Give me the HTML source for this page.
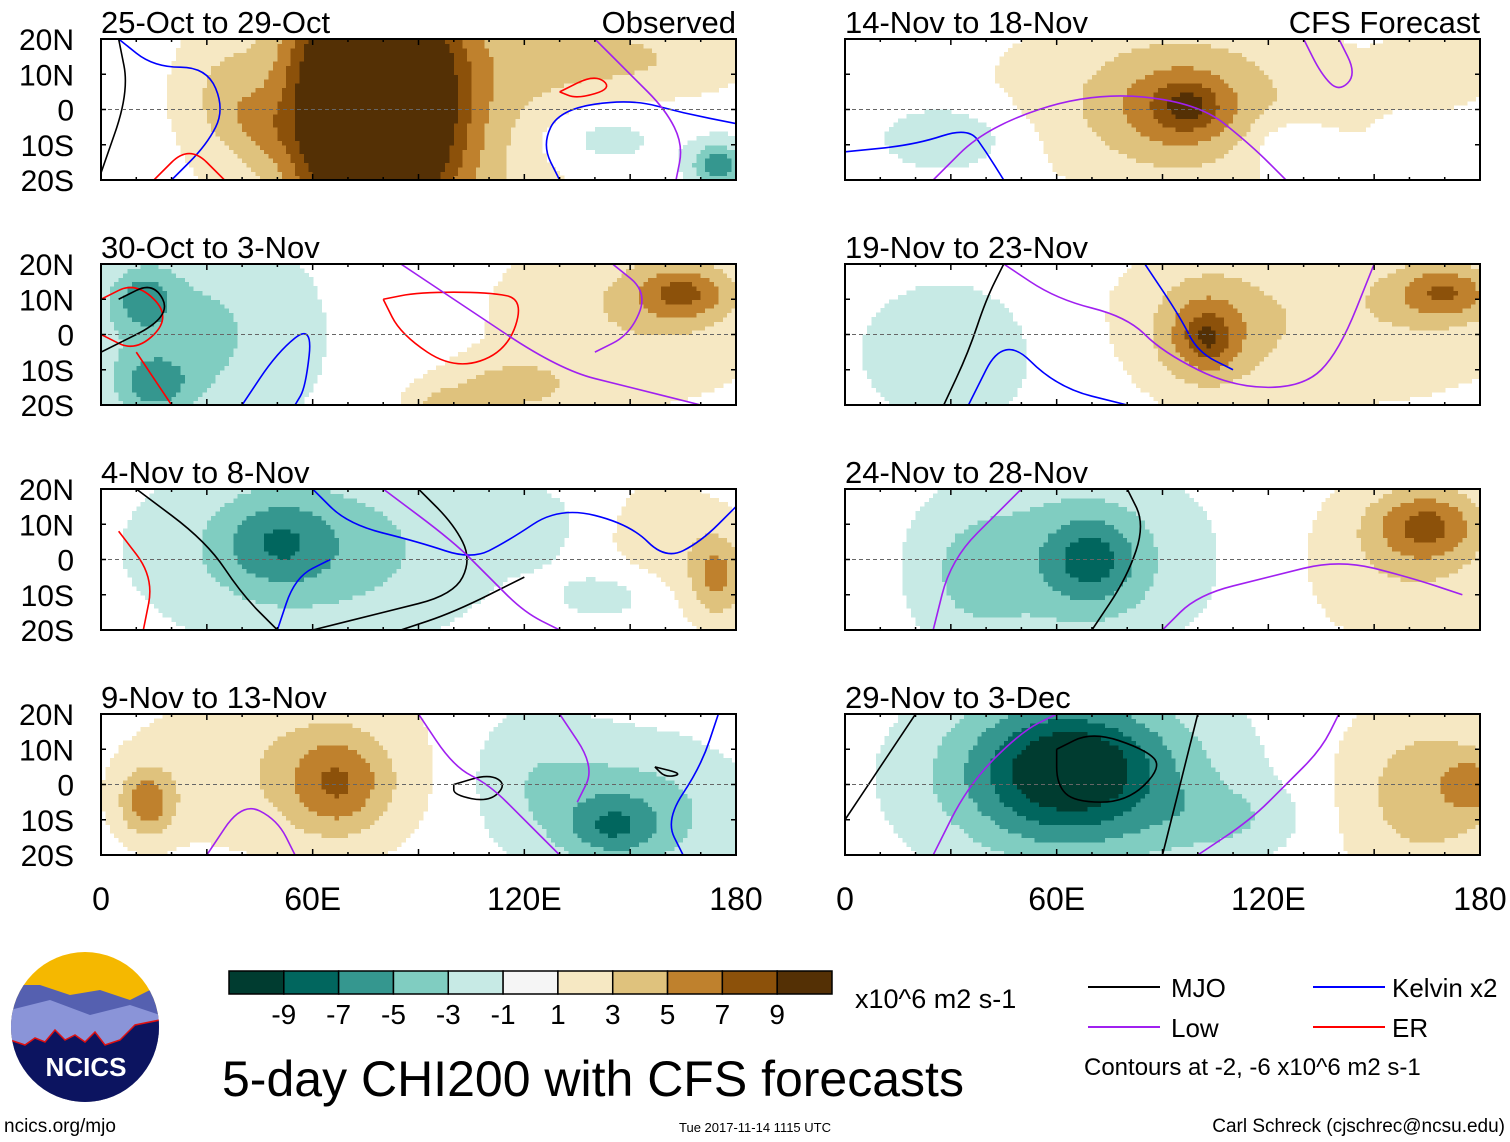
<!DOCTYPE html>
<html><head><meta charset="utf-8">
<style>
html,body{margin:0;padding:0;background:#fff;}
svg{display:block;font-family:"Liberation Sans",sans-serif;}
</style></head>
<body>
<svg id="chart" width="1510" height="1142" viewBox="0 0 1510 1142" xmlns="http://www.w3.org/2000/svg">
<g id="panels"></g>
<g id="bottom">
  <g>
    <defs><clipPath id="logoclip"><ellipse cx="85" cy="1027" rx="74" ry="75"/></clipPath></defs>
    <g clip-path="url(#logoclip)">
      <rect x="10" y="950" width="150" height="160" fill="#f5b800"/>
      <polygon points="10,985 40,985 70,995 100,990 130,1000 160,985 160,1110 10,1110" fill="#5560b0"/>
      <polygon points="10,1010 50,1000 90,1015 130,1005 160,1015 160,1110 10,1110" fill="#8a94d8"/>
      <polygon points="10,1040 25,1045 35,1038 45,1042 55,1030 65,1040 75,1035 85,1042 95,1032 105,1045 120,1040 135,1025 160,1020 160,1110 10,1110" fill="#0c1460" stroke="#e01010" stroke-width="1.5"/>
    </g>
    <text x="86" y="1076" font-size="26" font-weight="bold" fill="#fff" text-anchor="middle">NCICS</text>
  </g>
  <text x="4" y="1132" font-size="19">ncics.org/mjo</text>
  <text x="755" y="1132" font-size="13" text-anchor="middle">Tue 2017-11-14 1115 UTC</text>
  <text x="1505" y="1132" font-size="19" text-anchor="end">Carl Schreck (cjschrec@ncsu.edu)</text>
  <text x="222" y="1096" font-size="50">5-day CHI200 with CFS forecasts</text>
  <g id="cbar"></g>
  <text x="855" y="1008" font-size="27">x10^6 m2 s-1</text>
  <g>
    <line x1="1088" y1="987" x2="1160" y2="987" stroke="#000" stroke-width="2"/>
    <text x="1171" y="997" font-size="26">MJO</text>
    <line x1="1313" y1="987" x2="1385" y2="987" stroke="#0000ff" stroke-width="2"/>
    <text x="1392" y="997" font-size="26">Kelvin x2</text>
    <line x1="1088" y1="1027" x2="1160" y2="1027" stroke="#a020f0" stroke-width="2"/>
    <text x="1171" y="1037" font-size="26">Low</text>
    <line x1="1313" y1="1027" x2="1385" y2="1027" stroke="#ff0000" stroke-width="2"/>
    <text x="1392" y="1037" font-size="26">ER</text>
    <text x="1084" y="1075" font-size="24">Contours at -2, -6 x10^6 m2 s-1</text>
  </g>
</g>
</svg>
<script>
const NS="http://www.w3.org/2000/svg";
// ---- data ----
const titles=["25-Oct to 29-Oct","14-Nov to 18-Nov","30-Oct to 3-Nov","19-Nov to 23-Nov","4-Nov to 8-Nov","24-Nov to 28-Nov","9-Nov to 13-Nov","29-Nov to 3-Dec"];
const binEdges=[-9,-7,-5,-3,-1,1,3,5,7,9];
const binColors=["#003c30","#01665e","#35978f","#80cdc1","#c7eae5","#f5f5f5","#f6e8c3","#dfc27d","#bf812d","#8c510a","#543005"];
const cbarLabels=["-9","-7","-5","-3","-1","1","3","5","7","9"];
const latTicks=["20N","10N","0","10S","20S"];
const latVals=[20,10,0,-10,-20];
const lonTicks=["0","60E","120E","180"];
const lonVals=[0,60,120,180];
// blobs: [lon, lat, amplitude, lonRadius, latRadius]
const blobs0=[[85,0,4,45,40],[62,3,4,12,40],[75,3,5,14,40],[90,3,5,14,40],[150,15,2,35,12],[35,5,1.6,12,15],[140,-8,-1.8,20,10],[175,-16,-4.5,8,7],[45,-5,1.5,10,10]];
const blobs1=[[95,3,2.5,50,25],[95,0,2.5,20,15],[97,1,2.5,8,6],[125,-10,-1.8,12,8],[30,-8,-2,20,10],[170,12,1.8,15,10]];
const blobs2=[[25,0,-2.5,35,30],[12,10,-3,8,8],[15,-14,-3,10,8],[150,5,2,40,25],[165,12,4,14,8],[115,-15,2.5,18,8],[95,-20,2,10,6]];
const blobs3=[[135,5,2,60,25],[102,0,3.5,14,15],[103,-1,2,6,6],[170,12,4,14,8],[30,-5,-2,25,20]];
const blobs4=[[60,3,-3,45,25],[50,5,-2.5,15,12],[175,-5,3.5,8,12],[160,5,1.5,20,20],[120,10,-1.5,15,10],[145,-10,-1.5,15,8]];
const blobs5=[[65,0,-3,35,25],[70,0,-3,12,12],[165,10,4,15,10],[160,0,2,30,25],[35,-5,-1.5,15,20]];
const blobs6=[[55,5,2,45,25],[67,0,3.5,14,14],[13,-5,4,8,10],[150,-8,-3,30,20],[145,-12,-2.5,12,8],[120,5,-1.5,20,20]];
const blobs7=[[65,2,-5,40,25],[62,5,-3,25,18],[65,5,-2,12,8],[165,-2,3,25,25],[178,0,2.5,8,8],[110,-10,-1.5,20,10]];
const blobSets=[blobs0,blobs1,blobs2,blobs3,blobs4,blobs5,blobs6,blobs7];
// contour lines: [color, [[lon,lat],...]]
const lines0=[["#0000ff",[[5,20],[15,12],[30,12],[35,0],[30,-10],[20,-20]]],["#0000ff",[[180,-4],[165,-1],[150,3],[130,0],[125,-10],[130,-20]]],["#a020f0",[[140,20],[150,10],[160,0],[165,-10],[163,-20]]],["#ff0000",[[130,5],[140,10],[145,6],[135,3],[130,5]]],["#ff0000",[[15,-20],[25,-10],[35,-20]]],["#000000",[[5,20],[8,5],[0,-18]]]];
const lines1=[["#0000ff",[[0,-12],[20,-10],[35,-5],[40,-12],[45,-20]]],["#a020f0",[[25,-20],[40,-5],[70,5],[100,2],[115,-10],[125,-20]]],["#a020f0",[[130,20],[135,10],[140,5],[145,10],[140,20]]]];
const lines2=[["#ff0000",[[0,10],[10,15],[20,5],[10,-5],[0,0]]],["#ff0000",[[10,-5],[20,-20]]],["#ff0000",[[80,10],[85,0],[100,-10],[115,-5],[120,10],[110,12],[90,12],[80,10]]],["#000000",[[0,-5],[20,5],[15,15],[5,10]]],["#0000ff",[[40,-20],[50,-5],[60,3],[58,-15],[55,-20]]],["#a020f0",[[85,20],[100,10],[130,-10],[150,-15],[170,-20]]],["#a020f0",[[145,20],[155,12],[150,0],[140,-5]]]];
const lines3=[["#000000",[[28,-20],[35,-5],[40,10],[45,20]]],["#0000ff",[[35,-20],[45,0],[60,-15],[80,-20]]],["#a020f0",[[45,20],[60,10],[80,5],[90,-5],[110,-15],[130,-15],[140,-5],[150,20]]],["#0000ff",[[85,20],[95,5],[100,-5],[110,-10]]]];
const lines4=[["#000000",[[10,20],[30,5],[40,-10],[50,-20]]],["#000000",[[90,20],[100,10],[105,0],[100,-10],[80,-15],[60,-20]]],["#000000",[[85,-20],[100,-15],[120,-5]]],["#0000ff",[[60,20],[70,10],[90,5],[105,0],[115,5],[130,15],[150,10],[160,0],[170,5],[180,15]]],["#0000ff",[[50,-20],[55,-5],[65,0]]],["#a020f0",[[80,20],[100,5],[110,-5],[120,-15],[130,-20]]],["#ff0000",[[5,8],[15,-5],[12,-20]]]];
const lines5=[["#000000",[[80,20],[85,10],[80,-5],[70,-20]]],["#a020f0",[[25,-20],[30,0],[45,15],[50,20]]],["#a020f0",[[90,-20],[100,-10],[120,-5],[140,0],[160,-5],[175,-10]]]];
const lines6=[["#000000",[[100,0],[110,3],[115,0],[110,-5],[100,-3],[100,0]]],["#000000",[[157,5],[165,3],[160,2],[157,5]]],["#0000ff",[[175,20],[170,5],[160,-10],[165,-20]]],["#a020f0",[[30,-20],[40,-5],[50,-10],[55,-20]]],["#a020f0",[[90,20],[100,5],[110,0],[120,-10],[130,-20]]],["#a020f0",[[130,20],[140,5],[135,-5]]]];
const lines7=[["#000000",[[0,-10],[10,5],[20,20]]],["#000000",[[60,10],[70,15],[85,10],[90,5],[80,-5],[65,-5],[60,0],[60,10]]],["#000000",[[90,-20],[95,0],[100,20]]],["#a020f0",[[25,-20],[35,0],[50,15],[60,20]]],["#a020f0",[[100,-20],[115,-10],[125,0],[135,10],[140,20]]]];
const lineSets=[lines0,lines1,lines2,lines3,lines4,lines5,lines6,lines7];
const gain=1.4;

// ---- layout ----
const W=635,H=141,tops=[39,264,489,714],lefts=[101,845];
const panelsG=document.getElementById('panels');
function mk(tag,attrs,parent){const e=document.createElementNS(NS,tag);for(const k in attrs)e.setAttribute(k,attrs[k]);parent.appendChild(e);return e;}
function colorFor(v){let i=0;while(i<binEdges.length&&v>binEdges[i])i++;return binColors[i];}

titles.forEach((t,p)=>{
  const col=p%2,row=Math.floor(p/2);
  const x0=lefts[col],y0=tops[row];
  const xs=lon=>x0+lon/180*W, ys=lat=>y0+(20-lat)/40*H;
  const g=mk('g',{},panelsG);
  
  
  const cid='clip'+p;
  const cp=mk('clipPath',{id:cid},g);mk('rect',{x:x0,y:y0,width:W,height:H},cp);
  const field=mk('g',{'clip-path':'url(#'+cid+')','shape-rendering':'crispEdges'},g);
  
  
  const bl=blobSets[p],step=1.25;
  for(let lon=0;lon<180;lon+=step){for(let lat=-20;lat<20;lat+=step){
    const cx=lon+step/2,cy=lat+step/2;let v=0;
    bl.forEach(b=>{const dx=(cx-b[0])/b[3],dy=(cy-b[1])/b[4];v+=b[2]*gain*Math.exp(-(dx*dx+dy*dy));});
    const c=colorFor(v);
    if(c!=="#f5f5f5")mk('rect',{x:xs(lon),y:ys(lat+step),width:step/180*W+0.6,height:step/40*H+0.6,fill:c},field);
  }}
  const lg=mk('g',{'clip-path':'url(#'+cid+')',fill:'none','stroke-width':1.6},g);
  
  
  lineSets[p].forEach(l=>{
    const pts=l[1].map(q=>[xs(q[0]),ys(q[1])]);
    let d='M'+pts[0].join(',');
    for(let i=1;i<pts.length;i++){const a=pts[i-1],b=pts[i];const mx=(a[0]+b[0])/2,my=(a[1]+b[1])/2;d+=' Q'+a[0]+','+a[1]+' '+mx+','+my;}
    d+=' L'+pts[pts.length-1].join(',');
    const path=mk('path',{d:d,stroke:l[0]},lg);
    
    
  });
  mk('line',{x1:x0,y1:ys(0),x2:x0+W,y2:ys(0),stroke:'#666','stroke-width':1,'stroke-dasharray':'4,3'},g);
  const fr=mk('rect',{x:x0,y:y0,width:W,height:H,fill:'none',stroke:'#000','stroke-width':2},g);
  
  
  for(let lon=0;lon<=180;lon+=10){const len=lon%30===0?6:3;
    mk('line',{x1:xs(lon),y1:y0,x2:xs(lon),y2:y0+len,stroke:'#000','stroke-width':1.5},g);
    mk('line',{x1:xs(lon),y1:y0+H,x2:xs(lon),y2:y0+H-len,stroke:'#000','stroke-width':1.5},g);}
  latVals.forEach(lt=>{mk('line',{x1:x0,y1:ys(lt),x2:x0+5,y2:ys(lt),stroke:'#000','stroke-width':1.5},g);mk('line',{x1:x0+W,y1:ys(lt),x2:x0+W-5,y2:ys(lt),stroke:'#000','stroke-width':1.5},g);});
  const tt=mk('text',{x:x0,y:y0-6,'font-size':31},g);tt.textContent=t;
  
  
  if(p===0){const o=mk('text',{x:x0+W,y:y0-6,'font-size':31,'text-anchor':'end'},g);o.textContent='Observed';
    
    }
  if(p===1){const o=mk('text',{x:x0+W,y:y0-6,'font-size':31,'text-anchor':'end'},g);o.textContent='CFS Forecast';
    
    }
  if(col===0){latTicks.forEach((lb,i)=>{const tx=mk('text',{x:74,y:ys(latVals[i])+11,'font-size':30,'text-anchor':'end'},g);tx.textContent=lb;
    
    });}
  if(row===3){lonTicks.forEach((lb,i)=>{const tx=mk('text',{x:xs(lonVals[i]),y:910,'font-size':32,'text-anchor':'middle'},g);tx.textContent=lb;
    
    });}
});

// colorbar
const cb=document.getElementById('cbar');const cx0=229,cw=(832-229)/binColors.length;
binColors.forEach((c,i)=>{const r=mk('rect',{x:cx0+i*cw,y:971,width:cw,height:23,fill:c,stroke:'#000','stroke-width':1.5},cb);
  
  });
cbarLabels.forEach((lb,i)=>{const t=mk('text',{x:cx0+(i+1)*cw,y:1024,'font-size':28,'text-anchor':'middle'},cb);t.textContent=lb;
  
  });
</script>
</body></html>
